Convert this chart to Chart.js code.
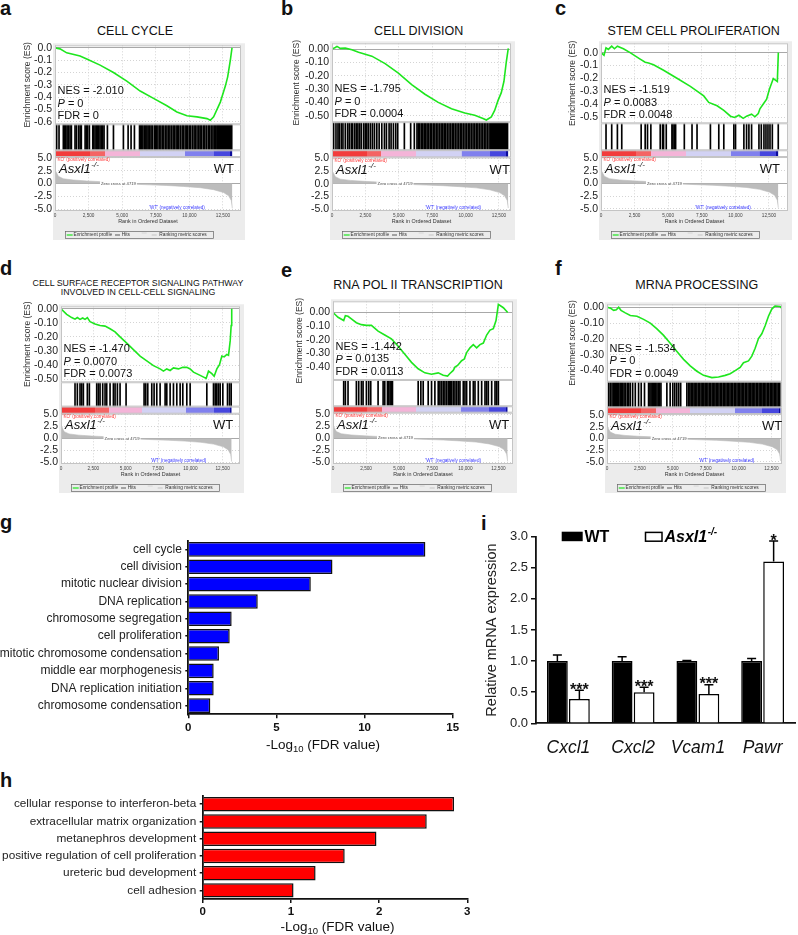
<!DOCTYPE html>
<html>
<head>
<meta charset="utf-8">
<title>Asxl1 GSEA and GO enrichment</title>
<script src="https://cdn.jsdelivr.net/npm/chart.js@4.4.1/dist/chart.umd.min.js"></script>
<style>
  html, body { margin: 0; padding: 0; background: #fff; }
  body { position: relative; width: 798px; height: 935px; overflow: hidden;
         font-family: 'Liberation Sans', Arial, Helvetica, sans-serif; color: #111; }
  canvas { position: absolute; }
  .tag { position: absolute; font-size: 20px; line-height: 20px; font-weight: bold; }
  .gtitle { position: absolute; transform: translate(-50%, -50%); white-space: nowrap;
            font-size: 12.5px; line-height: 1; text-align: center; color: #111; }
</style>
</head>
<body>
<div class="tag" style="left:0;top:-2px">a</div>
<div class="tag" style="left:281px;top:-2px">b</div>
<div class="tag" style="left:555px;top:-2px">c</div>
<div class="tag" style="left:0;top:258px">d</div>
<div class="tag" style="left:281px;top:260px">e</div>
<div class="tag" style="left:555px;top:258px">f</div>
<div class="tag" style="left:0;top:512px">g</div>
<div class="tag" style="left:0;top:770px">h</div>
<div class="tag" style="left:481px;top:513px">i</div>

<div class="gtitle" style="left:135px;top:31px">CELL CYCLE</div>
<div class="gtitle" style="left:418.7px;top:31px">CELL DIVISION</div>
<div class="gtitle" style="left:693.7px;top:30.7px">STEM CELL PROLIFERATION</div>
<div class="gtitle" style="left:138px;top:287.5px;font-size:8.8px;line-height:9.3px">CELL SURFACE RECEPTOR SIGNALING PATHWAY<br>INVOLVED IN CELL-CELL SIGNALING</div>
<div class="gtitle" style="left:418px;top:285px">RNA POL II TRANSCRIPTION</div>
<div class="gtitle" style="left:696.7px;top:285px">MRNA PROCESSING</div>

<script>
// ---- data ----
// ranked gene list (shared by all GSEA panels)
const rankMetricRanks = [0, 75, 250, 620, 1370, 2360, 3355, 4350, 4719, 5840, 7080, 8325, 9570, 10810, 11800, 12550, 12920, 13120, 13195];
const rankMetricValues = [2.5, 2.3, 1.4, 0.93, 0.68, 0.5, 0.37, 0.19, 0, -0.12, -0.25, -0.37, -0.56, -0.8, -1.18, -1.74, -2.36, -3.3, -4.8];
const colourBarRanks = [0, 2600, 3700, 6300, 9700, 11800, 13050, 13200];
const rankTicks = [0, 2500, 5000, 7500, 10000, 12500];
const zeroCross = 4719;

// enrichment score curves
const esRankA = [0, 373, 870, 1864, 2361, 3355, 4349, 5343, 6337, 7331, 8325, 9070, 9816, 10562, 11307, 11556, 11804, 12302, 12675, 12849, 13047, 13171, 13200];
const esValA = [0, -0.008, -0.04, -0.065, -0.09, -0.14, -0.2, -0.27, -0.35, -0.41, -0.47, -0.52, -0.55, -0.56, -0.574, -0.587, -0.56, -0.44, -0.31, -0.235, -0.1, 0, 0];
const esRankB = [0, 249, 373, 621, 994, 1491, 1988, 2982, 3976, 4970, 5964, 6958, 7952, 8946, 9940, 10686, 11307, 11556, 11928, 12177, 12425, 12674, 12873, 13047, 13171, 13200];
const esValB = [0, 0.012, 0.02, 0.005, 0.007, -0.005, -0.024, -0.053, -0.109, -0.18, -0.266, -0.338, -0.399, -0.447, -0.478, -0.495, -0.519, -0.531, -0.507, -0.459, -0.386, -0.326, -0.241, -0.097, -0.012, 0.005];
const esRankC = [0, 50, 224, 374, 548, 797, 1000, 1220, 1668, 2166, 2913, 3287, 3536, 3909, 4656, 5652, 6648, 7644, 8018, 8640, 9138, 9636, 9935, 10259, 10582, 10831, 11205, 11454, 11703, 11827, 12076, 12325, 12525, 12823, 13121, 13196];
const esValC = [0, 0, -0.02, 0.037, 0.025, 0.05, 0.03, 0.05, 0.03, 0, -0.05, -0.074, -0.08, -0.094, -0.136, -0.198, -0.26, -0.334, -0.384, -0.41, -0.446, -0.49, -0.5, -0.483, -0.507, -0.49, -0.475, -0.495, -0.47, -0.433, -0.396, -0.359, -0.285, -0.2, -0.223, 0];
const esRankD = [0, 439, 826, 1084, 1264, 1471, 1677, 1858, 2038, 2245, 2632, 3019, 3406, 3793, 4180, 4567, 5083, 5599, 6115, 6631, 7147, 7663, 7921, 8179, 8437, 8695, 9082, 9417, 9727, 9985, 10243, 10759, 11223, 11404, 11662, 11842, 12049, 12255, 12436, 12616, 12823, 12952, 13081, 13158, 13200];
const esValD = [0, -0.039, -0.062, -0.073, -0.062, -0.075, -0.065, -0.075, -0.062, -0.091, -0.107, -0.119, -0.123, -0.142, -0.164, -0.199, -0.244, -0.29, -0.336, -0.37, -0.404, -0.427, -0.443, -0.427, -0.438, -0.42, -0.427, -0.416, -0.416, -0.427, -0.45, -0.473, -0.495, -0.443, -0.461, -0.479, -0.427, -0.397, -0.336, -0.342, -0.324, -0.33, -0.228, -0.119, 0];
const esRankE = [0, 379, 808, 934, 1136, 1388, 1767, 2145, 2524, 2903, 3407, 3912, 4417, 4922, 5427, 5931, 6436, 6941, 7446, 7951, 8329, 8657, 8834, 9086, 9213, 9415, 9717, 9919, 10096, 10348, 10601, 10853, 11106, 11358, 11610, 11863, 12115, 12317, 12494, 12872, 13200];
const esValE = [0, -0.035, -0.059, -0.024, -0.028, -0.047, -0.075, -0.089, -0.094, -0.094, -0.136, -0.165, -0.193, -0.247, -0.306, -0.365, -0.412, -0.442, -0.452, -0.442, -0.459, -0.466, -0.447, -0.424, -0.4, -0.388, -0.353, -0.341, -0.294, -0.259, -0.235, -0.259, -0.235, -0.224, -0.165, -0.129, -0.118, -0.059, 0.059, 0.035, 0];
const esRankF = [0, 253, 506, 708, 886, 1063, 1392, 1771, 2277, 2783, 3289, 3795, 4301, 4807, 5313, 5819, 6325, 6831, 7337, 7970, 8476, 8982, 9361, 9741, 10120, 10373, 10753, 11006, 11259, 11512, 11765, 12018, 12271, 12524, 12777, 13156, 13200];
const esValF = [0, -0.006, -0.02, -0.016, 0, -0.02, -0.036, -0.053, -0.057, -0.077, -0.101, -0.137, -0.178, -0.228, -0.279, -0.329, -0.37, -0.404, -0.43, -0.444, -0.44, -0.43, -0.42, -0.4, -0.38, -0.35, -0.339, -0.309, -0.259, -0.198, -0.168, -0.117, -0.057, -0.012, 0.008, 0.004, 0];

// gene-set hit positions (rank)
const hitsA = [124, 300, 620, 700, 800, 900, 1000, 1120, 1220, 1490, 1600, 1760, 1870, 1960, 2240, 2340, 2430, 2560, 2810, 2880, 2980, 3080, 3160, 3250, 3350, 3450, 3550, 3650, 3900, 4350, 5090, 5440, 5660, 5910, 6290, 6370, 6460, 6540, 6650, 6760, 6840, 6930, 7050, 7150, 7260, 7400, 7470, 7560, 7660, 7780, 7880, 8000, 8100, 8230, 8330, 8450, 8550, 8670, 8790, 8890, 9010, 9110, 9210, 9330, 9460, 9550, 9680, 9780, 9880, 10000, 10100, 10230, 10350, 10450, 10570, 10700, 10800, 10920, 11050, 11150, 11270, 11400, 11500, 11620, 11750, 11850, 11950, 12050, 12100, 12150, 12200, 12250, 12300, 12350, 12400, 12450, 12500, 12550, 12600, 12650, 12700, 12750, 12800, 12850, 12900, 12950, 13000, 13050, 13100, 13150];
const hitsB = [124, 298, 447, 547, 696, 820, 994, 1168, 1292, 1441, 1541, 1690, 1814, 1938, 2063, 2187, 2361, 2485, 2609, 2734, 2883, 3032, 3181, 3355, 3529, 3728, 3926, 4075, 4274, 4423, 4597, 4771, 4920, 5417, 5889, 6163, 6362, 6460, 6560, 6680, 6790, 6900, 7010, 7120, 7230, 7350, 7460, 7580, 7700, 7820, 7930, 8050, 8170, 8290, 8400, 8520, 8640, 8760, 8880, 9000, 9120, 9240, 9360, 9480, 9600, 9720, 9840, 9960, 10080, 10200, 10320, 10440, 10560, 10680, 10800, 10920, 11040, 11160, 11280, 11400, 11520, 11640, 11760, 11880, 11940, 12000, 12060, 12120, 12180, 12240, 12300, 12360, 12420, 12480, 12540, 12600, 12660, 12720, 12780, 12840, 12900, 12960, 13020, 13080, 13140];
const hitsC = [374, 797, 1220, 1544, 2988, 3287, 3461, 3710, 4407, 4582, 4656, 4856, 5279, 5354, 5453, 5553, 6200, 6773, 7146, 8142, 8765, 9138, 9885, 10010, 10632, 10832, 11006, 11205, 11753, 11927, 12126, 12276, 12425, 12575, 12749, 13190];
const hitsD = [1084, 1264, 1471, 1600, 1729, 2038, 2193, 2761, 2890, 3019, 3225, 3406, 3535, 3793, 4051, 4180, 4360, 4567, 5031, 6424, 6553, 6708, 7018, 7198, 7405, 7663, 8050, 8179, 8437, 8695, 8953, 9211, 9417, 9727, 9985, 11275, 11791, 11920, 12049, 12178, 12307, 12513, 12874, 13029, 13158];
const hitsE = [808, 934, 1136, 1767, 1943, 2145, 2272, 2524, 2701, 2852, 3407, 3786, 3912, 4114, 4215, 4316, 4417, 4493, 6436, 6638, 6815, 7193, 7446, 7698, 7951, 8077, 8203, 8329, 8455, 8582, 8708, 8784, 8884, 8960, 9086, 9213, 9339, 9465, 9591, 9844, 9970, 10096, 10348, 10601, 10727, 10979, 11232, 11484, 11610, 11737, 11989, 12241, 12367, 12494];
const hitsF = [130, 250, 380, 480, 560, 640, 700, 760, 820, 900, 1000, 1100, 1200, 1300, 1420, 1550, 1650, 1770, 1950, 2150, 2400, 2600, 2850, 3160, 3260, 3350, 3440, 3530, 3620, 3710, 3800, 3900, 4000, 4100, 4550, 4800, 5000, 5150, 5300, 5450, 5600, 6070, 6200, 6300, 6400, 6520, 6620, 6720, 6830, 6940, 7040, 7150, 7250, 7360, 7460, 7570, 7670, 7780, 7880, 7990, 8090, 8200, 8300, 8410, 8510, 8620, 8720, 8830, 8930, 9040, 9140, 9250, 9350, 9460, 9560, 9670, 9770, 9880, 9980, 10090, 10190, 10300, 10400, 10510, 10610, 10720, 10820, 10930, 11030, 11140, 11240, 11350, 11450, 11560, 11660, 11770, 11870, 11980, 12080, 12190, 12290, 12400, 12500, 12610, 12710, 12820, 12920, 13030, 13130];

const nesValues = ['-2.010', '-1.795', '-1.519', '-1.470', '-1.442', '-1.534'];
const pValues = ['0', '0', '0.0083', '0.0070', '0.0135', '0'];
const fdrValues = ['0', '0.0004', '0.0048', '0.0073', '0.0113', '0.0049'];

// GO terms
const goTermsUp = ['cell cycle', 'cell division', 'mitotic nuclear division', 'DNA replication', 'chromosome segregation', 'cell proliferation', 'mitotic chromosome condensation', 'middle ear morphogenesis', 'DNA replication initiation', 'chromosome condensation'];
const goScoreUp = [13.45, 8.18, 6.95, 3.94, 2.46, 2.35, 1.74, 1.44, 1.44, 1.25];
const goTermsDown = ['cellular response to interferon-beta', 'extracellular matrix organization', 'metanephros development', 'positive regulation of cell proliferation', 'ureteric bud development', 'cell adhesion'];
const goScoreDown = [2.85, 2.54, 1.97, 1.61, 1.28, 1.03];

// qPCR
const genes = ['Cxcl1', 'Cxcl2', 'Vcam1', 'Pawr'];
const wtMean = [1, 1, 1, 1];
const wtErr = [0.1, 0.07, 0.01, 0.04];
const koMean = [0.39, 0.5, 0.47, 2.6];
const koErr = [0.14, 0.08, 0.15, 0.33];
const koStars = ['***', '***', '***', '*'];

// ---- styling ----
const FONT = "'Liberation Sans', Arial, Helvetica, sans-serif";
Chart.defaults.font.family = FONT;
Chart.defaults.color = '#222';
const colourBarColours = ['#f23c3c', '#f46464', '#f4b4d8', '#d2d2f4', '#8080ee', '#4646de', '#0c0c9a'];

const gseaPanels = [
  { plotL: 55, plotR: 241, esTop: 39, esBot: 121, hitsBot: 148, barBot: 155, rankBot: 211, esMin: -0.62, esMax: 0.021, dec: 1, rMin: -5.31, rMax: 5.13, xMax: 13840, titleOff: 27, esR: esRankA, esV: esValA, hits: hitsA },
  { plotL: 332, plotR: 511, esTop: 37.3, esBot: 119, hitsBot: 148, barBot: 155.5, rankBot: 211, esMin: -0.547, esMax: 0.043, dec: 2, rMin: -5.38, rMax: 5.23, xMax: 13400, titleOff: 35, esR: esRankB, esV: esValB, hits: hitsB },
  { plotL: 601, plotR: 788, esTop: 37, esBot: 120, hitsBot: 148, barBot: 155, rankBot: 211, esMin: -0.545, esMax: 0.072, dec: 1, rMin: -5.44, rMax: 5.19, xMax: 13915, titleOff: 28, esR: esRankC, esV: esValC, hits: hitsC },
  { plotL: 61, plotR: 240, esTop: 300, esBot: 379, hitsBot: 404.3, barBot: 411.7, rankBot: 464, esMin: -0.522, esMax: 0.018, dec: 2, rMin: -5.3, rMax: 5.12, xMax: 13840, titleOff: 33, esR: esRankD, esV: esValD, hits: hitsD },
  { plotL: 333, plotR: 513, esTop: 295, esBot: 376.7, hitsBot: 404, barBot: 410.7, rankBot: 464, esMin: -0.494, esMax: 0.082, dec: 2, rMin: -5.35, rMax: 5.3, xMax: 13600, titleOff: 33, esR: esRankE, esV: esValE, hits: hitsE },
  { plotL: 607, plotR: 782, esTop: 297.7, esBot: 378.3, hitsBot: 405, barBot: 412, rankBot: 464, esMin: -0.47, esMax: 0.018, dec: 2, rMin: -5.46, rMax: 5.27, xMax: 13300, titleOff: 34, esR: esRankF, esV: esValF, hits: hitsF }
];

function makeCanvas(left, top, w, h) {
  const c = document.createElement('canvas');
  c.width = w; c.height = h;
  c.style.left = left + 'px'; c.style.top = top + 'px';
  c.style.width = w + 'px'; c.style.height = h + 'px';
  document.body.appendChild(c);
  return c;
}

function colourBarFill(context) {
  const chart = context.chart;
  if (!chart.chartArea) return 'rgba(0,0,0,0)';
  const x = chart.scales.x;
  const end = colourBarRanks[colourBarRanks.length - 1];
  const g = chart.ctx.createLinearGradient(x.getPixelForValue(0), 0, x.getPixelForValue(end), 0);
  for (let k = 0; k < colourBarColours.length; k++) {
    g.addColorStop(colourBarRanks[k] / end, colourBarColours[k]);
    g.addColorStop(Math.max(colourBarRanks[k] / end, colourBarRanks[k + 1] / end - 0.0005), colourBarColours[k]);
  }
  return g;
}

const zeroGrid = c => (c.tick && c.tick.value === 0) ? '#a8a8a8' : '#d4d4d4';
const zeroDash = c => (c.tick && c.tick.value === 0) ? [] : [1, 2];

function hLine(ctx, x1, x2, y, col, w) {
  ctx.strokeStyle = col; ctx.lineWidth = w;
  ctx.beginPath(); ctx.moveTo(x1, y); ctx.lineTo(x2, y); ctx.stroke();
}

const gseaDecor = {
  id: 'gseaDecor',
  beforeDraw(chart) {
    const { ctx, chartArea: a } = chart;
    ctx.save();
    ctx.fillStyle = '#ececec';
    ctx.fillRect(a.left - 2, a.top - 2, a.right - a.left + 6, a.bottom - a.top + 31);
    ctx.fillStyle = '#fff';
    ctx.fillRect(a.left, a.top, a.right - a.left, a.bottom - a.top);
    ctx.restore();
  },
  beforeDatasetsDraw(chart) {
    const { ctx, chartArea: a, scales: s } = chart;
    ctx.save();
    ctx.fillStyle = '#fff';
    ctx.fillRect(a.left, s.yHits.top, a.right - a.left, s.yBar.bottom - s.yHits.top);
    ctx.restore();
  },
  afterDatasetsDraw(chart, args, o) {
    const { ctx, chartArea: a, scales: s } = chart;
    const end = colourBarRanks[colourBarRanks.length - 1];
    ctx.save();
    ctx.strokeStyle = '#c4c4c4'; ctx.lineWidth = 1;
    ['yES', 'yHits', 'yBar', 'yRank'].forEach(k => {
      const sc = s[k];
      ctx.strokeRect(a.left + 0.5, sc.top + 0.5, a.right - a.left - 1, sc.bottom - sc.top - 1);
    });

    // statistics
    const x0 = a.left + 2.5, yb = s.yES.bottom;
    ctx.fillStyle = '#111'; ctx.textAlign = 'left'; ctx.textBaseline = 'middle';
    ctx.font = '11px ' + FONT;
    ctx.fillText('NES = ' + o.nes, x0, yb - 33);
    ctx.font = 'italic 11px ' + FONT;
    ctx.fillText('P', x0, yb - 20.5);
    const pw = ctx.measureText('P').width;
    ctx.font = '11px ' + FONT;
    ctx.fillText(' = ' + o.p, x0 + pw, yb - 20.5);
    ctx.fillText('FDR = ' + o.fdr, x0, yb - 8);

    // ranked-list captions
    ctx.font = '4.6px ' + FONT;
    ctx.fillStyle = '#ff3a3a'; ctx.textBaseline = 'top';
    ctx.fillText("'KO' (positively correlated)", a.left + 1.5, s.yBar.bottom + 0.8);
    ctx.fillStyle = '#3838ff'; ctx.textAlign = 'center'; ctx.textBaseline = 'middle';
    ctx.fillText("'WT' (negatively correlated)", s.x.getPixelForValue(9080), s.yRank.bottom - 3.5);
    const zx = s.x.getPixelForValue(zeroCross), zy = s.yRank.getPixelForValue(0);
    ctx.font = '4.2px ' + FONT;
    const zt = 'Zero cross at ' + zeroCross;
    const zw = ctx.measureText(zt).width;
    ctx.fillStyle = '#fff'; ctx.fillRect(zx - zw / 2 - 1, zy - 2.4, zw + 2, 4.8);
    ctx.fillStyle = '#444'; ctx.fillText(zt, zx, zy);

    // genotype labels
    const gy = s.yRank.getPixelForValue(2.7);
    ctx.fillStyle = '#111'; ctx.textAlign = 'left';
    ctx.font = 'italic 13px ' + FONT;
    ctx.fillText('Asxl1', a.left + 4, gy);
    const aw = ctx.measureText('Asxl1').width;
    ctx.font = 'italic 8px ' + FONT;
    ctx.fillText('-/-', a.left + 4.5 + aw, gy - 4.5);
    ctx.font = '13px ' + FONT; ctx.textAlign = 'right';
    ctx.fillText('WT', s.x.getPixelForValue(end) + 1.5, gy);

    // legend
    const lx = a.left + 10, ly = a.bottom + 24;
    ctx.strokeStyle = '#666'; ctx.lineWidth = 0.7;
    ctx.strokeRect(lx + 0.5, ly - 3.5, 148, 7);
    hLine(ctx, lx + 1.7, lx + 7.7, ly, '#1ee61e', 1.2);
    hLine(ctx, lx + 50, lx + 55, ly, '#333', 0.8);
    hLine(ctx, lx + 76.7, lx + 81.7, ly - 2, '#d0d0d0', 0.8);
    hLine(ctx, lx + 86.7, lx + 91.7, ly, '#bbbbbb', 0.8);
    ctx.font = '4.8px ' + FONT; ctx.fillStyle = '#333'; ctx.textAlign = 'left'; ctx.textBaseline = 'middle';
    ctx.fillText('Enrichment profile', lx + 8.5, ly);
    ctx.fillText('Hits', lx + 56.7, ly);
    ctx.fillText('Ranking metric scores', lx + 94.3, ly);
    ctx.restore();
  }
};

function drawGsea(p, i) {
  const left = Math.round(p.plotL - 52);
  const top = Math.round(p.esTop - 3);
  const width = Math.round(p.plotR + 8 - left);
  const height = Math.round(p.rankBot + 31 - top);
  const yW = p.plotL - left;
  const padTop = p.esTop - top;
  const padRight = width - (p.plotR - left);
  const padBottom = height - (p.rankBot - top) - 14;
  const cv = makeCanvas(left, top, width, height);
  const fixW = sc => { sc.width = yW; };
  const titlePad = p.plotL - p.titleOff - left - 5.1;
  const end = colourBarRanks[colourBarRanks.length - 1];

  new Chart(cv, {
    type: 'line',
    data: {
      datasets: [
        { type: 'line', yAxisID: 'yES', data: p.esR.map((r, k) => ({ x: r, y: p.esV[k] })),
          borderColor: '#1ee61e', borderWidth: 1.6, pointRadius: 0, fill: false, tension: 0 },
        { type: 'bar', yAxisID: 'yHits', data: p.hits.map(r => ({ x: r, y: 1 })),
          backgroundColor: '#000', borderWidth: 0, barThickness: 1 },
        { type: 'line', yAxisID: 'yBar', data: [{ x: colourBarRanks[0], y: 1 }, { x: end, y: 1 }],
          borderWidth: 0, pointRadius: 0, fill: 'origin', backgroundColor: colourBarFill },
        { type: 'line', yAxisID: 'yRank', data: rankMetricRanks.map((r, k) => ({ x: r, y: rankMetricValues[k] })),
          borderColor: '#bcbcbc', borderWidth: 0.6, pointRadius: 0, fill: 'origin', backgroundColor: '#bcbcbc', tension: 0 }
      ]
    },
    options: {
      responsive: false, animation: false, events: [],
      layout: { padding: { top: padTop, right: padRight, bottom: padBottom, left: 0 } },
      plugins: {
        legend: { display: false }, tooltip: { enabled: false },
        gseaDecor: { nes: nesValues[i], p: pValues[i], fdr: fdrValues[i] }
      },
      scales: {
        x: {
          type: 'linear', min: 0, max: p.xMax, offset: false,
          afterBuildTicks: sc => { sc.ticks = rankTicks.map(v => ({ value: v })); },
          ticks: { autoSkip: false, maxRotation: 0, minRotation: 0, padding: 2,
                   font: { size: 4.7 }, color: '#444',
                   callback: v => Number(v).toLocaleString('en-US') },
          grid: { color: '#d4d4d4', drawTicks: false, offset: false },
          border: { display: false, dash: [1, 2] },
          title: { display: true, text: 'Rank in Ordered Dataset', font: { size: 5.4 }, color: '#333', padding: 0 },
          afterFit: sc => { sc.height = 14; }
        },
        yRank: {
          type: 'linear', position: 'left', stack: 'gsea', stackWeight: p.rankBot - p.barBot, weight: 1,
          min: p.rMin, max: p.rMax,
          ticks: { stepSize: 2.5, includeBounds: false, autoSkip: false, padding: 3, font: { size: 10.5 }, color: '#222',
                   callback: v => Math.abs(v / 2.5 - Math.round(v / 2.5)) < 1e-6 ? v.toFixed(1) : '' },
          grid: { color: zeroGrid, drawTicks: false }, border: { display: false, dash: zeroDash },
          afterFit: fixW
        },
        yBar: {
          type: 'linear', position: 'left', stack: 'gsea', stackWeight: p.barBot - p.hitsBot, weight: 2,
          min: 0, max: 1, ticks: { display: false }, grid: { display: false }, border: { display: false },
          afterFit: fixW
        },
        yHits: {
          type: 'linear', position: 'left', stack: 'gsea', stackWeight: p.hitsBot - p.esBot, weight: 3,
          min: 0, max: 1, ticks: { display: false }, grid: { display: false }, border: { display: false },
          afterFit: fixW
        },
        yES: {
          type: 'linear', position: 'left', stack: 'gsea', stackWeight: p.esBot - p.esTop, weight: 4,
          min: p.esMin, max: p.esMax,
          ticks: { stepSize: 0.1, includeBounds: false, autoSkip: false, padding: 3, font: { size: 10.5 }, color: '#222',
                   callback: v => Math.abs(v * 10 - Math.round(v * 10)) < 1e-6 ? v.toFixed(p.dec) : '' },
          grid: { color: zeroGrid, drawTicks: false }, border: { display: false, dash: zeroDash },
          title: { display: true, text: 'Enrichment score (ES)', font: { size: 8.5 }, color: '#333',
                   padding: { top: titlePad, bottom: 0 } },
          afterFit: fixW
        }
      }
    },
    plugins: [gseaDecor]
  });
}

gseaPanels.forEach(drawGsea);

// ---- GO bar charts ----
const logTitle = {
  id: 'logTitle',
  afterDraw(chart, args, o) {
    const { ctx, chartArea: a } = chart;
    const big = '13.5px ' + FONT, small = '9.5px ' + FONT;
    ctx.save();
    ctx.fillStyle = '#111'; ctx.textBaseline = 'middle'; ctx.textAlign = 'left';
    ctx.font = big; const w1 = ctx.measureText('-Log').width, w3 = ctx.measureText(' (FDR value)').width;
    ctx.font = small; const w2 = ctx.measureText('10').width;
    let x = (a.left + a.right) / 2 + o.dx - (w1 + w2 + w3) / 2;
    const y = a.bottom + o.dy;
    ctx.font = big; ctx.fillText('-Log', x, y); x += w1;
    ctx.font = small; ctx.fillText('10', x, y + 4); x += w2;
    ctx.font = big; ctx.fillText(' (FDR value)', x, y);
    ctx.restore();
  }
};

function drawGo(left, top, w, h, area, labels, values, colour, xMax, step, titleDy, labelSize) {
  const cv = makeCanvas(left, top, w, h);
  new Chart(cv, {
    type: 'bar',
    data: { labels: labels, datasets: [{ data: values, backgroundColor: colour, borderColor: '#111', borderWidth: 1.5,
                                         barPercentage: 0.84, categoryPercentage: 1 }] },
    options: {
      responsive: false, animation: false, events: [], indexAxis: 'y',
      layout: { padding: { top: area.top - top, right: left + w - area.right, left: 0, bottom: 0 } },
      plugins: { legend: { display: false }, tooltip: { enabled: false }, logTitle: { dx: 2.5, dy: titleDy } },
      scales: {
        x: {
          min: 0, max: xMax,
          ticks: { stepSize: step, font: { size: 11.5, weight: 'bold' }, color: '#111', padding: 2.4 },
          grid: { display: true, drawOnChartArea: false, tickLength: 4, color: '#111', lineWidth: 1.5 },
          border: { color: '#111', width: 1.8 },
          afterFit: sc => { sc.height = top + h - area.bottom; }
        },
        y: {
          ticks: { font: { size: labelSize }, color: '#222', padding: 3.5, autoSkip: false },
          grid: { drawOnChartArea: false, tickLength: 3, color: '#111', lineWidth: 1.5, offset: false },
          border: { color: '#111', width: 1.8 },
          afterFit: sc => { sc.width = area.left - left; }
        }
      }
    },
    plugins: [logTitle]
  });
}

drawGo(0, 530, 470, 222, { left: 188.3, right: 452.7, top: 538.3, bottom: 714.3 }, goTermsUp, goScoreUp, '#0000ff', 15, 5, 30.7, 12);
drawGo(0, 785, 480, 150, { left: 202.7, right: 467.3, top: 794, bottom: 899 }, goTermsDown, goScoreDown, '#ff0000', 3, 1, 28, 11.8);

// ---- qPCR chart ----
const qpcrDecor = {
  id: 'qpcrDecor',
  afterDatasetsDraw(chart) {
    const { ctx, chartArea: a, scales: { y } } = chart;
    const errs = [wtErr, koErr];
    ctx.save();
    ctx.strokeStyle = '#000'; ctx.lineWidth = 1.5;
    errs.forEach((err, di) => {
      const meta = chart.getDatasetMeta(di);
      meta.data.forEach((bar, k) => {
        const yTop = y.getPixelForValue(chart.data.datasets[di].data[k] + err[k]);
        ctx.beginPath();
        ctx.moveTo(bar.x, bar.y); ctx.lineTo(bar.x, yTop);
        ctx.moveTo(bar.x - 4.5, yTop); ctx.lineTo(bar.x + 4.5, yTop);
        ctx.stroke();
        if (di === 1) {
          ctx.fillStyle = '#111'; ctx.font = 'bold 16px ' + FONT;
          ctx.textAlign = 'center'; ctx.textBaseline = 'alphabetic';
          ctx.fillText(koStars[k], bar.x, yTop + 4.5);
        }
      });
    });
    // legend
    const L = a.left, T = a.top;
    ctx.fillStyle = '#000';
    ctx.fillRect(L + 25.7, T - 5, 21, 9.5);
    ctx.font = 'bold 16px ' + FONT; ctx.textAlign = 'left'; ctx.textBaseline = 'middle';
    ctx.fillText('WT', L + 48.5, T + 0.5);
    ctx.lineWidth = 1.5;
    ctx.strokeRect(L + 109.5, T - 4.3, 16.5, 8.8);
    ctx.font = 'italic bold 16px ' + FONT;
    ctx.fillText('Asxl1', L + 128.5, T + 0.5);
    const aw = ctx.measureText('Asxl1').width;
    ctx.font = 'italic bold 10px ' + FONT;
    ctx.fillText('-/-', L + 129 + aw, T - 4.5);
    ctx.restore();
  }
};

(function drawQpcr() {
  const left = 460, top = 520, w = 338, h = 245;
  const area = { left: 536, right: 795, top: 536.7, bottom: 723.3 };
  const cv = makeCanvas(left, top, w, h);
  new Chart(cv, {
    type: 'bar',
    data: {
      labels: genes,
      datasets: [
        { label: 'WT', data: wtMean, backgroundColor: '#000', borderColor: '#000', borderWidth: 1.5,
          barPercentage: 0.945, categoryPercentage: 0.68 },
        { label: 'KO', data: koMean, backgroundColor: '#fff', borderColor: '#000', borderWidth: 1.5,
          barPercentage: 0.945, categoryPercentage: 0.68 }
      ]
    },
    options: {
      responsive: false, animation: false, events: [],
      layout: { padding: { top: area.top - top, right: left + w - area.right, left: 0, bottom: 0 } },
      plugins: { legend: { display: false }, tooltip: { enabled: false } },
      scales: {
        x: {
          grid: { display: false, drawTicks: false },
          border: { color: '#111', width: 1.8 },
          ticks: { font: { size: 17.5, style: 'italic' }, color: '#111', padding: 14.5 },
          afterFit: sc => { sc.height = top + h - area.bottom; }
        },
        y: {
          min: 0, max: 3,
          ticks: { stepSize: 0.5, font: { size: 13 }, color: '#222', padding: 3, callback: v => v.toFixed(1) },
          grid: { drawOnChartArea: false, tickLength: 5, color: '#111', lineWidth: 1.5 },
          border: { color: '#111', width: 1.8 },
          title: { display: true, text: 'Relative mRNA expression', font: { size: 14.5 }, color: '#222',
                   padding: { top: 23, bottom: 0 } },
          afterFit: sc => { sc.width = area.left - left; }
        }
      }
    },
    plugins: [qpcrDecor]
  });
})();
</script>
</body>
</html>
